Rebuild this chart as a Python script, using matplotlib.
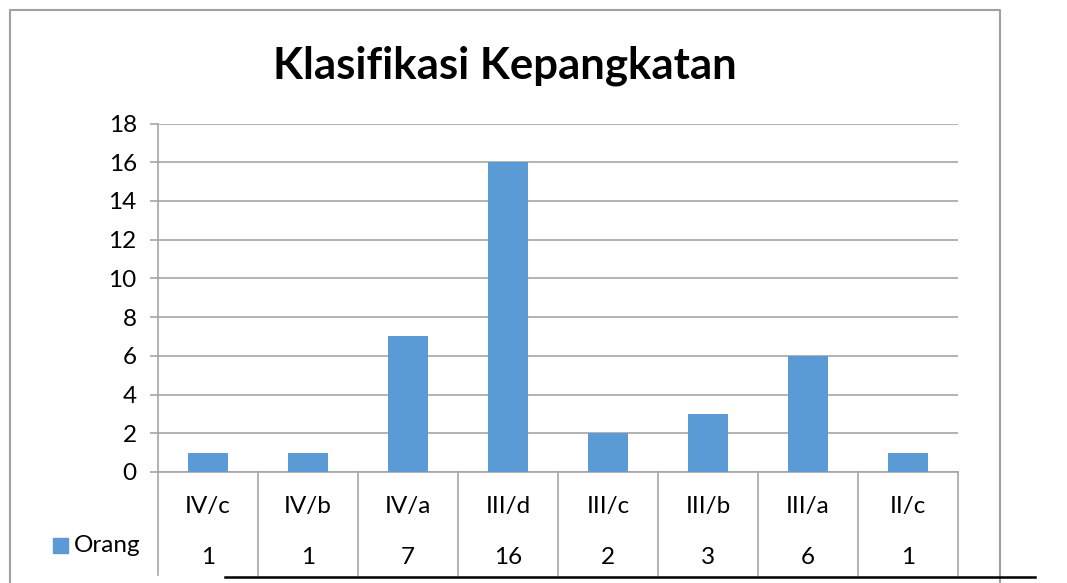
import matplotlib
matplotlib.use("Agg")
import matplotlib.pyplot as plt
from matplotlib.patches import Rectangle
from matplotlib.lines import Line2D

# Data
kategori = ["IV/c", "IV/b", "IV/a", "III/d", "III/c", "III/b", "III/a", "II/c"]
orang = [1, 1, 7, 16, 2, 3, 6, 1]
judul = "Klasifikasi Kepangkatan"
seri = "Orang"

W, H = 1067, 583
BAR = "#5B9BD5"
GRID = "#A6A6A6"
FS = 17.5
plt.rcParams["font.family"] = ["Lato", "DejaVu Sans"]


def fx(x):
    return x / W


def fy(y):
    return 1 - y / H


fig = plt.figure(figsize=(W / 100, H / 100), dpi=100)
ax = fig.add_axes([fx(158), fy(472), (958 - 158) / W, (472 - 123.5) / H])

x = range(len(kategori))
ax.bar(x, orang, width=0.4, color=BAR, zorder=3)
ax.set_xlim(-0.5, len(kategori) - 0.5)
ax.set_ylim(0, 18)
ax.set_yticks(range(0, 19, 2))
ax.yaxis.grid(True, color=GRID, linewidth=1.2)
ax.set_axisbelow(True)
ax.set_xticks([])
ax.tick_params(axis="y", length=5.8, width=1.2, color=GRID, pad=9.5,
               labelsize=FS)
for s in ["top", "right"]:
    ax.spines[s].set_visible(False)
for s in ["left", "bottom"]:
    ax.spines[s].set_color(GRID)
    ax.spines[s].set_linewidth(1.2)

# Data table below the axis
tr = ax.get_xaxis_transform()
h_ax = 472 - 123.5
y_row1 = -(507 - 472) / h_ax
y_row2 = -(558 - 472) / h_ax
y_end = -(575 - 472) / h_ax
for i in range(len(kategori) + 1):
    ax.add_line(Line2D([i - 0.5, i - 0.5], [0, y_end], transform=tr,
                       color=GRID, linewidth=1.2, clip_on=False))
for i, (k, v) in enumerate(zip(kategori, orang)):
    ax.text(i, y_row1, k, transform=tr, ha="center", va="center", fontsize=FS)
    ax.text(i, y_row2, str(v), transform=tr, ha="center", va="center",
            fontsize=FS)

# Legend key
fig.patches.append(Rectangle((fx(53), fy(553)), 15 / W, 15 / H,
                             transform=fig.transFigure, color=BAR))
fig.text(fx(74), fy(546), seri, ha="left", va="center", fontsize=FS)

# Title
fig.text(fx(505), fy(78), judul, ha="center", va="baseline", fontsize=31.5,
         fontweight="bold")

# Chart frame and the line under it
fig.add_artist(Line2D([fx(10), fx(10), fx(1000), fx(1000)],
                      [fy(590), fy(10), fy(10), fy(590)],
                      transform=fig.transFigure, color="#A0A0A0", linewidth=1.5))
fig.add_artist(Line2D([fx(225), fx(1035)], [fy(577), fy(577)],
                      transform=fig.transFigure, color="black", linewidth=1.8))

fig.savefig("out.png", dpi=100, facecolor="white")
